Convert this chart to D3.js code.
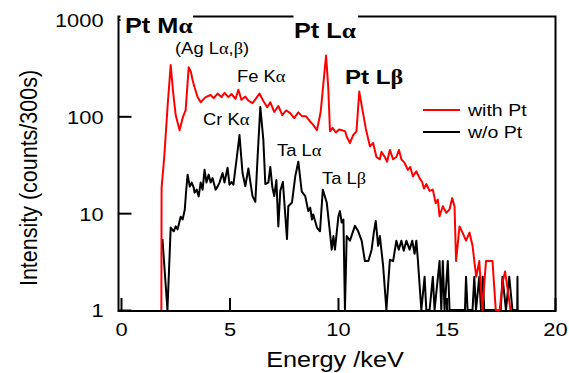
<!DOCTYPE html>
<html>
<head>
<meta charset="utf-8">
<script src="https://cdn.jsdelivr.net/npm/d3@7"></script>
<style>
  body { margin: 0; background: #fff; }
  svg { display: block; font-family: "Liberation Sans", Arial, sans-serif; }
</style>
</head>
<body>
<svg id="chart" width="569" height="373"></svg>
<script>
// spectrum with Pt (red)
const energyRed = [1.86, 1.87, 2.00, 2.15, 2.29, 2.40, 2.52, 2.70, 2.85, 2.98, 3.12, 3.22, 3.30, 3.39, 3.53, 3.67,
  3.90, 4.13, 4.27, 4.45, 4.63, 4.77, 4.95, 5.09, 5.28, 5.41, 5.55, 5.73, 5.87, 6.06, 6.24, 6.38, 6.56, 6.74,
  6.88, 7.06, 7.25, 7.43, 7.61, 7.80, 7.98, 8.17, 8.35, 8.53, 8.72, 8.85, 9.03, 9.20, 9.45, 9.55, 9.63, 9.75,
  9.90, 10.05, 10.18, 10.33, 10.40, 10.55, 10.70, 10.85, 10.92, 10.98, 11.13, 11.28, 11.38, 11.47, 11.62,
  11.77, 11.93, 12.00, 12.16, 12.26, 12.39, 12.54, 12.69, 12.81, 12.92, 13.07, 13.22, 13.33, 13.45, 13.61,
  13.76, 13.88, 13.96, 14.07, 14.22, 14.37, 14.50, 14.60, 14.68, 14.83, 14.99, 15.14, 15.26, 15.37, 15.44,
  15.60, 15.74, 15.90, 16.06, 16.20, 16.37, 16.51, 16.65, 16.82, 17.12, 17.27, 17.45, 17.60, 17.70, 17.95];
const countsRed = [1, 18, 40, 130, 338, 180, 103, 72, 98, 116, 322, 288, 236, 200, 158, 140,
  158, 166, 154, 172, 158, 175, 158, 170, 152, 188, 148, 160, 145, 137, 155, 172, 144, 124,
  140, 111, 128, 103, 115, 108, 96, 110, 100, 100, 88, 82, 72, 110, 426, 200, 70, 76,
  68, 73, 72, 70, 62, 53, 64, 70, 116, 180, 116, 75, 60, 49, 53,
  38, 36, 43, 38, 34, 45, 36, 38, 45, 36, 33, 28, 30, 24, 27,
  23, 21, 18, 20, 17, 17.5, 12.7, 13.8, 9.3, 11.8, 10.1, 10.9, 14.3, 11.8, 3.2,
  7.3, 6.3, 5.2, 6.3, 4.6, 2.2, 3.2, 1, 3.2, 3.2, 1, 1, 2, 2.5, 1];

// spectrum without Pt (black)
const energyBlack = [1.91, 2.14, 2.29, 2.43, 2.52, 2.61, 2.75, 2.84, 2.94, 3.00, 3.07, 3.17, 3.26, 3.35, 3.39,
  3.49, 3.58, 3.67, 3.76, 3.85, 3.94, 4.04, 4.13, 4.22, 4.36, 4.45, 4.54, 4.68, 4.77, 4.91, 5.00, 5.09, 5.18,
  5.32, 5.46, 5.60, 5.73, 5.87, 5.96, 6.06, 6.19, 6.30, 6.42, 6.56, 6.65, 6.79, 6.88, 6.97, 7.06, 7.16, 7.25,
  7.34, 7.46, 7.65, 7.71, 7.88, 8.03, 8.17, 8.33, 8.49, 8.63, 8.72, 8.80, 8.86, 9.03, 9.17, 9.30, 9.48, 9.63,
  9.71, 9.79, 9.86, 10.02, 10.09, 10.17, 10.25, 10.32, 10.40, 10.55, 10.78, 10.93, 11.09, 11.24, 11.40, 11.55,
  11.65, 11.74, 11.85, 11.93, 12.08, 12.23, 12.39, 12.54, 12.69, 12.80, 12.92, 13.03, 13.15, 13.30, 13.42,
  13.53, 13.61, 13.68, 13.84, 13.99, 14.07, 14.22, 14.37, 14.45, 14.68, 14.76, 14.83, 14.91, 15.06, 15.14,
  15.85, 15.90, 15.97, 16.20, 16.28, 16.36, 16.51, 16.59, 16.67, 16.74, 17.50, 17.58, 17.74, 17.89, 18.04,
  18.26, 18.27, 18.28];
const countsBlack = [5.4, 1, 7.1, 6.5, 7.3, 6.8, 9.2, 8.6, 10.9, 16.7, 25, 18.8, 20.7, 18.4, 16.3,
  17.5, 14.9, 20.7, 17.5, 28, 20.7, 25, 20.7, 23, 17.5, 18.8, 20.7, 26, 20.7, 29.5, 19.7, 21, 19.7,
  35, 64, 26, 19, 29, 21, 15, 13.1, 40, 125, 57, 20, 20.7, 30, 18.8, 15, 22, 7.3,
  17, 21, 5.4, 11.8, 12.9, 24, 34, 16.7, 15, 10.5, 11.4, 8.6, 9.7, 7.1, 6.5, 17.5, 12.9, 6.3,
  4.2, 5.8, 4.2, 9.3, 10.5, 8, 8.6, 1, 5.8, 5.2, 7.4, 6.5, 5.2, 3.2, 3.2, 4.2,
  6.3, 8.3, 4.6, 5.8, 2.85, 1, 3.3, 3.2, 5.2, 4.2, 5.2, 4.1, 5.2, 4.2, 5.2,
  3.8, 5.2, 3.3, 1, 2.2, 1, 1, 2.2, 1, 3.2, 1, 3.2, 1, 3.2, 1,
  1, 2.2, 1, 1, 2.2, 1, 2.2, 1, 2.2, 1, 1, 2.2, 1, 2.2, 1,
  1, 2.2, 1];

const xTickValues = [0, 5, 10, 15, 20];
const yTickValues = [1, 10, 100, 1000];
const seriesNames = ['with Pt', 'w/o Pt'];
const seriesColors = ['#ff0000', '#000000'];

const svg = d3.select('#chart');
const frame = { left: 118.5, right: 555.5, top: 16.5, bottom: 311 };
const stretch = 1.15;   // text in the original is a bit wider than tall

const x = d3.scaleLinear().domain([0, 20]).range([121, 555]);
const y = d3.scaleLog().domain([1, 1000]).range([310, 19.5]).clamp(true);

// frame
svg.append('rect')
  .attr('x', frame.left).attr('y', frame.top)
  .attr('width', frame.right - frame.left).attr('height', frame.bottom - frame.top)
  .attr('fill', 'none').attr('stroke', '#000').attr('stroke-width', 2);

// axes, ticks pointing inward
const xAxis = svg.append('g')
  .attr('transform', `translate(0,${ frame.bottom })`)
  .call(d3.axisBottom(x).tickValues(xTickValues).tickSizeInner(-13).tickSizeOuter(0).tickPadding(12));
const yAxis = svg.append('g')
  .attr('transform', `translate(${ frame.left },0)`)
  .call(d3.axisLeft(y).tickValues(yTickValues).tickFormat(d3.format('d'))
    .tickSizeInner(-13).tickSizeOuter(0).tickPadding(13));

[xAxis, yAxis].forEach(a => {
  a.select('.domain').remove();
  a.selectAll('.tick line').attr('stroke', '#000').attr('stroke-width', 2);
  a.selectAll('.tick text')
    .attr('font-size', 19)
    .attr('fill', '#000')
    .attr('font-family', '"Liberation Sans", Arial, sans-serif')
    .attr('transform', `scale(${ stretch },1)`);
});
yAxis.selectAll('.tick text').attr('dy', '0.36em');

// data lines
svg.append('clipPath').attr('id', 'plot')
  .append('rect').attr('x', frame.left).attr('y', frame.top)
  .attr('width', frame.right - frame.left).attr('height', frame.bottom - frame.top);

const line = d3.line()
  .x(d => x(d[0]))
  .y(d => y(Math.max(d[1], 1)));

const series = [
  d3.zip(energyRed, countsRed),
  d3.zip(energyBlack, countsBlack)
];

svg.append('g').attr('clip-path', 'url(#plot)')
  .selectAll('path')
  .data(series.slice().reverse())
  .join('path')
  .attr('d', line)
  .attr('fill', 'none')
  .attr('stroke', (d, i) => seriesColors[1 - i])
  .attr('stroke-width', 2)
  .attr('stroke-linejoin', 'round');

// text with greek letters drawn from a serif face
function label(txt, px, py, size, opts = {}) {
  const t = svg.append('text')
    .attr('transform', `translate(${ px },${ py }) scale(${ stretch },1)`)
    .attr('font-size', size)
    .attr('font-weight', opts.bold ? 'bold' : 'normal')
    .attr('text-anchor', opts.anchor || 'start')
    .attr('fill', '#000');
  txt.split(/([αβ])/).filter(s => s.length).forEach(s => {
    const sp = t.append('tspan').text(s);
    if (/[αβ]/.test(s)) { sp.attr('font-family', '"Liberation Serif", "DejaVu Serif", serif'); }
  });
  return t;
}

// white boxes behind the bold labels sitting on the top frame
svg.append('rect').attr('x', 120.5).attr('y', 6).attr('width', 72.5).attr('height', 31).attr('fill', '#fff');
svg.append('rect').attr('x', 293.5).attr('y', 6).attr('width', 64.5).attr('height', 36).attr('fill', '#fff');

label('Pt Mα', 125, 33, 22, { bold: true });
label('Pt Lα', 294, 38, 22, { bold: true });
label('Pt Lβ', 345, 84, 21, { bold: true });
label('(Ag Lα,β)', 175, 54, 16);
label('Fe Kα', 237, 82, 16);
label('Cr Kα', 203, 125, 16);
label('Ta Lα', 277, 156, 16);
label('Ta Lβ', 322, 184, 16);

// legend
const legend = svg.append('g').attr('transform', 'translate(423,110)');
seriesNames.forEach((name, i) => {
  legend.append('line')
    .attr('x1', 0).attr('x2', 37)
    .attr('y1', i * 22).attr('y2', i * 22)
    .attr('stroke', seriesColors[i]).attr('stroke-width', 2);
  legend.append('text')
    .attr('transform', `translate(45,${ i * 22 + 6 }) scale(${ stretch },1)`)
    .attr('font-size', 17)
    .text(name);
});

// axis titles
svg.append('text')
  .attr('transform', `translate(335,367) scale(${ stretch },1)`)
  .attr('text-anchor', 'middle')
  .attr('font-size', 22)
  .text('Energy /keV');
svg.append('text')
  .attr('transform', 'translate(37,178) rotate(-90) scale(1,1.15)')
  .attr('text-anchor', 'middle')
  .attr('font-size', 21.5)
  .text('Intensity (counts/300s)');
</script>
</body>
</html>
